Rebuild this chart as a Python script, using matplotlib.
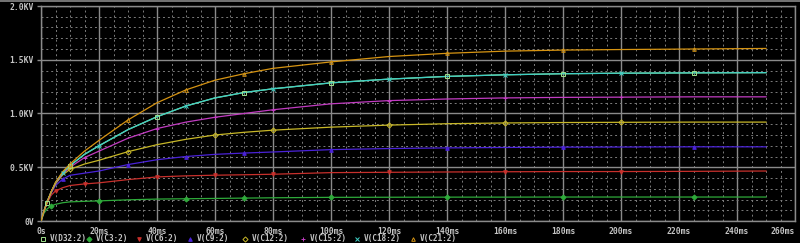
import matplotlib
matplotlib.use("Agg")
import matplotlib.pyplot as plt
from matplotlib.lines import Line2D
from matplotlib.ticker import MultipleLocator

# time axis (ms) and node voltages (KV)
t_ms = [0, 1, 2, 3.5, 5, 7.5, 10, 15, 20, 30, 40, 50, 60, 70, 80,
        100, 120, 140, 160, 180, 200, 225, 250]

v_c3 = [0, 0.07, 0.11, 0.14, 0.155, 0.17, 0.178, 0.183, 0.187, 0.197, 0.204, 0.207,
        0.21, 0.213, 0.216, 0.22, 0.221, 0.222, 0.222, 0.223, 0.223, 0.223, 0.223]
v_c6 = [0, 0.09, 0.16, 0.24, 0.28, 0.31, 0.33, 0.345, 0.355, 0.385, 0.41, 0.42,
        0.426, 0.43, 0.435, 0.45, 0.453, 0.456, 0.458, 0.46, 0.46, 0.462, 0.465]
v_c9 = [0, 0.09, 0.17, 0.26, 0.33, 0.39, 0.425, 0.445, 0.465, 0.525, 0.57, 0.60,
        0.62, 0.632, 0.642, 0.664, 0.674, 0.68, 0.684, 0.687, 0.688, 0.69, 0.69]
v_c12 = [0, 0.09, 0.17, 0.27, 0.345, 0.43, 0.48, 0.53, 0.565, 0.645, 0.71, 0.76,
         0.80, 0.825, 0.845, 0.873, 0.892, 0.905, 0.912, 0.916, 0.918, 0.92, 0.92]
v_c15 = [0, 0.09, 0.17, 0.27, 0.35, 0.44, 0.50, 0.59, 0.65, 0.77, 0.86, 0.92,
         0.965, 1.0, 1.035, 1.09, 1.12, 1.135, 1.145, 1.15, 1.152, 1.155, 1.155]
v_c18 = [0, 0.09, 0.17, 0.27, 0.355, 0.45, 0.515, 0.62, 0.70, 0.85, 0.97, 1.07,
         1.145, 1.195, 1.23, 1.285, 1.32, 1.345, 1.36, 1.37, 1.375, 1.378, 1.38]
v_c21 = [0, 0.09, 0.17, 0.27, 0.36, 0.46, 0.53, 0.65, 0.75, 0.94, 1.10, 1.22,
         1.31, 1.37, 1.42, 1.48, 1.53, 1.56, 1.58, 1.59, 1.595, 1.60, 1.605]
# D32 sits on top of the C18 trace
v_d32 = [0, 0.09, 0.17, 0.27, 0.355, 0.45, 0.515, 0.62, 0.70, 0.85, 0.97, 1.07,
         1.145, 1.195, 1.23, 1.285, 1.32, 1.345, 1.36, 1.37, 1.375, 1.378, 1.38]

names = ["V(D32:2)", "V(C3:2)", "V(C6:2)", "V(C9:2)",
         "V(C12:2)", "V(C15:2)", "V(C18:2)", "V(C21:2)"]
values = [v_d32, v_c3, v_c6, v_c9, v_c12, v_c15, v_c18, v_c21]

colors = ["#9ee08c", "#2eaa3a", "#c8302c", "#4a22d8",
          "#c8b828", "#c23cc2", "#3ed0c6", "#d69412"]
markers = ["s", "D", "v", "^", "D", "+", "x", "^"]
filled = [False, True, True, True, False, False, False, False]
legend_x = [43, 89, 139, 190, 245, 303, 357, 413]

W, H = 800, 243
fig = plt.figure(figsize=(W / 100, H / 100), dpi=100, facecolor="black")
ax = fig.add_axes([41 / W, 1 - 221 / H, (795 - 41) / W, (221 - 6) / H])
ax.set_facecolor("black")

grid_c = "#8a8a8a"
txt_c = "#c4c4c4"

ax.set_xlim(0, 260)
ax.set_ylim(0, 2.0)
ax.xaxis.set_major_locator(MultipleLocator(20))
ax.xaxis.set_minor_locator(MultipleLocator(5))
ax.yaxis.set_major_locator(MultipleLocator(0.5))
ax.yaxis.set_minor_locator(MultipleLocator(0.1))
ax.grid(which="major", color=grid_c, lw=1.0, ls="-")
ax.grid(which="minor", color="#7c7c7c", lw=0.7, ls=(0, (2, 3)))
ax.set_axisbelow(True)

ax.set_xticks(range(0, 261, 20))
ax.set_xticklabels(["0s"] + ["%dms" % v for v in range(20, 261, 20)])
ax.set_yticks([0, 0.5, 1.0, 1.5, 2.0])
ax.set_yticklabels(["0V", "0.5KV", "1.0KV", "1.5KV", "2.0KV"])
ax.tick_params(which="major", colors=grid_c, labelcolor=txt_c, labelsize=5.8,
               length=3, width=1, pad=2)
ax.tick_params(axis="x", which="major", length=0, pad=4)
ax.tick_params(which="minor", length=0)
for lab in ax.get_xticklabels() + ax.get_yticklabels():
    lab.set_family("DejaVu Sans Mono")
    lab.set_fontweight("bold")
# last time label is pulled in so it stays on the page
ax.get_xticklabels()[-1].set_horizontalalignment("right")
ax.get_xticklabels()[-1].set_x(260.5)
for s in ax.spines.values():
    s.set_color(grid_c)
    s.set_linewidth(1.0)

mark_at = [[2, 6, 10, 13, 15, 17, 19, 21],
           [3, 8, 11, 13, 15, 17, 19, 21],
           [4, 7, 10, 12, 14, 16, 18, 20],
           [5, 9, 11, 13, 15, 17, 19, 21],
           [6, 9, 12, 14, 16, 18, 20],
           [7, 10, 12, 14, 16, 18, 20],
           [5, 8, 11, 14, 16, 18, 20],
           [6, 9, 11, 13, 15, 17, 19, 21]]
for i in range(len(names)):
    z = 2 if i == 0 else 3
    ax.plot(t_ms, values[i], color=colors[i], lw=0.9, zorder=z)
    ax.plot(t_ms, values[i], ls="none", marker=markers[i], ms=2.6,
            mew=0.7, color=colors[i],
            mfc=colors[i] if filled[i] else "none",
            markevery=mark_at[i], zorder=4)

# legend row along the bottom
for i in range(len(names)):
    x = legend_x[i] / W
    y = 1 - 238.5 / H
    fig.add_artist(Line2D([x], [y], transform=fig.transFigure, ls="none",
                          marker=markers[i], ms=2.6, mew=0.7, color=colors[i],
                          mfc=colors[i] if filled[i] else "none"))
    fig.text(x + 7 / W, y, names[i], color=txt_c, fontsize=5.6,
             family="DejaVu Sans Mono", fontweight="bold", va="center", ha="left")

# thin window border at the top
fig.add_artist(Line2D([0, 1], [1 - 0.8 / H, 1 - 0.8 / H], transform=fig.transFigure,
                      color="#8a8a8a", lw=1.2))

fig.savefig("out.png", dpi=100, facecolor="black")
